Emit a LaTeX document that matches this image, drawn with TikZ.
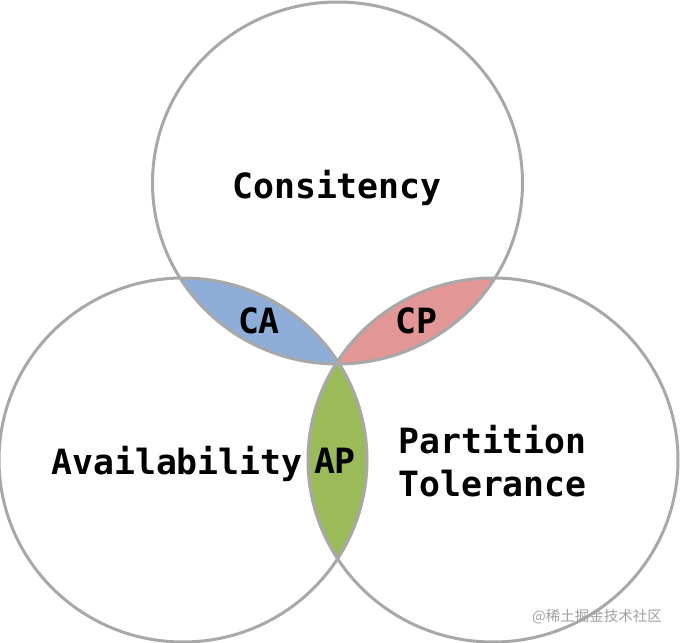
\documentclass[tikz,border=0pt]{standalone}
\usepackage{fontspec}
\newfontfamily\monob{DejaVu Sans Mono}
\newfontfamily\cjk{Noto Sans CJK SC}
\definecolor{ringgray}{HTML}{A8A8A8}
\definecolor{cablue}{HTML}{8FADD9}
\definecolor{cppink}{HTML}{E29696}
\definecolor{apgreen}{HTML}{9BBB59}
\definecolor{wmgray}{HTML}{A0A0A0}
\begin{document}
\begin{tikzpicture}[x=1pt,y=-1pt,
  ring/.style={draw=ringgray,line width=3pt},
  lbl/.style={font=\monob\bfseries\fontsize{34.8}{43}\selectfont,text=black,inner sep=0pt},
  wm/.style={font=\cjk\fontsize{14.5}{16}\selectfont,text=wmgray,inner sep=0pt}]
\useasboundingbox (0,0) rectangle (681,643);
\coordinate (T) at (337.5,183);
\coordinate (L) at (183,460);
\coordinate (R) at (493,460);
\def\tc{(T) ellipse [x radius=185pt, y radius=181pt]}
\def\lc{(L) ellipse [x radius=184pt, y radius=182pt]}
\def\rc{(R) ellipse [x radius=185pt, y radius=182pt]}
\begin{scope}
  \clip \tc;
  \fill[cablue] \lc;
\end{scope}
\begin{scope}
  \clip \tc;
  \fill[cppink] \rc;
\end{scope}
\begin{scope}
  \clip \lc;
  \fill[apgreen] \rc;
\end{scope}
\draw[ring] \tc;
\draw[ring] \lc;
\draw[ring] \rc;
\node[lbl,anchor=base] (cons) at (337,198) {Consitency};
\node[lbl,anchor=base] (ca) at (259,333) {CA};
\node[lbl,anchor=base] (cp) at (416,333) {CP};
\node[lbl,anchor=base] (ap) at (335,473) {AP};
\node[lbl,anchor=base] (avail) at (177,474) {Availability};
\node[lbl,anchor=base west] (part) at (398,453) {Partition};
\node[lbl,anchor=base west] (tol) at (398,496) {Tolerance};
\node[wm,anchor=base east] (wmk) at (662,621) {@稀土掘金技术社区};
\end{tikzpicture}
\end{document}
